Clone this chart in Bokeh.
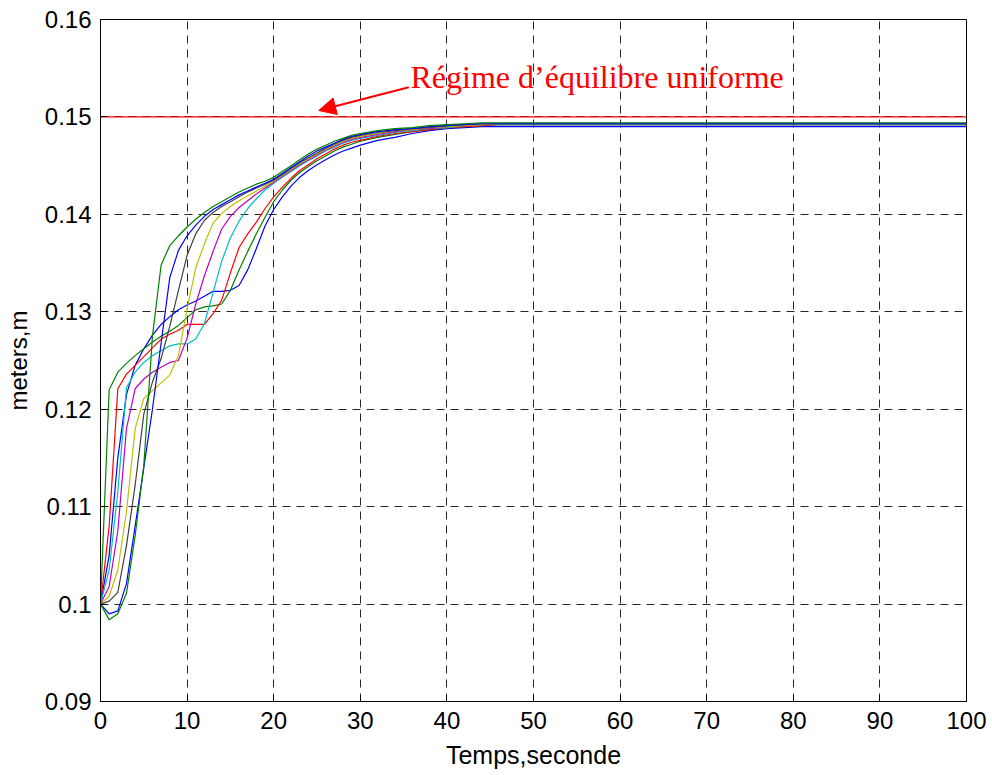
from bokeh.plotting import figure
from bokeh.models import Range1d, FixedTicker, PrintfTickFormatter, Label, Arrow, NormalHead
from bokeh.embed import file_html
from bokeh.resources import INLINE

# ---- data ----
TIME = [0, 1, 2, 3, 4, 5, 6, 7, 8, 9, 10, 11, 12, 13, 14, 15, 16, 17, 18, 19, 20,
        21, 22, 23, 24, 25, 26, 27, 28, 29, 30, 32, 34, 36, 38, 40, 42, 44, 46, 48, 50, 100]

blue_1 = [0.1000, 0.1050, 0.1150, 0.1215, 0.1245, 0.1262, 0.1276, 0.1287, 0.1295, 0.1302, 0.1307,
          0.1311, 0.1316, 0.1321, 0.1321, 0.1322, 0.1327, 0.1343, 0.1365, 0.1388, 0.1405,
          0.1418, 0.1429, 0.1438, 0.1445, 0.1451, 0.1456, 0.1461, 0.1465, 0.1468, 0.1471,
          0.1476, 0.1479, 0.1483, 0.1486, 0.1488, 0.1489, 0.1490, 0.1490, 0.1490, 0.1490, 0.1490]
green_1 = [0.1000, 0.1220, 0.1238, 0.1247, 0.1255, 0.1262, 0.1269, 0.1275, 0.1280, 0.1286, 0.1294,
           0.1302, 0.1305, 0.1306, 0.1308, 0.1322, 0.1343, 0.1362, 0.1380, 0.1397, 0.1413,
           0.1425, 0.1435, 0.1443, 0.1449, 0.1455, 0.1460, 0.1465, 0.1469, 0.1472, 0.1475,
           0.1479, 0.1482, 0.1485, 0.1487, 0.1489, 0.1490, 0.1491, 0.1492, 0.1492, 0.1492, 0.1492]
red_1 = [0.1000, 0.1080, 0.1221, 0.1236, 0.1245, 0.1254, 0.1263, 0.1272, 0.1277, 0.1281, 0.1287,
         0.1287, 0.1287, 0.1298, 0.1312, 0.1340, 0.1366, 0.1380, 0.1392, 0.1406, 0.1418,
         0.1428, 0.1437, 0.1445, 0.1451, 0.1457, 0.1462, 0.1467, 0.1471, 0.1474, 0.1476,
         0.1480, 0.1483, 0.1485, 0.1487, 0.1489, 0.1490, 0.1491, 0.1492, 0.1492, 0.1492, 0.1492]
cyan_1 = [0.1000, 0.1035, 0.1115, 0.1222, 0.1238, 0.1248, 0.1255, 0.1260, 0.1265, 0.1267, 0.1267,
          0.1272, 0.1288, 0.1320, 0.1352, 0.1376, 0.1393, 0.1406, 0.1416, 0.1425, 0.1432,
          0.1438, 0.1444, 0.1450, 0.1455, 0.1460, 0.1465, 0.1469, 0.1473, 0.1476, 0.1478,
          0.1481, 0.1484, 0.1486, 0.1488, 0.1489, 0.1491, 0.1492, 0.1492, 0.1492, 0.1492, 0.1492]
magenta_1 = [0.1000, 0.1018, 0.1075, 0.1180, 0.1221, 0.1231, 0.1238, 0.1243, 0.1248, 0.1250, 0.1273,
             0.1308, 0.1337, 0.1362, 0.1385, 0.1398, 0.1407, 0.1414, 0.1421, 0.1427, 0.1433,
             0.1439, 0.1445, 0.1451, 0.1456, 0.1461, 0.1466, 0.1470, 0.1474, 0.1477, 0.1479,
             0.1482, 0.1485, 0.1487, 0.1488, 0.1490, 0.1491, 0.1492, 0.1493, 0.1493, 0.1493, 0.1493]
yellow_1 = [0.1000, 0.1008, 0.1035, 0.1095, 0.1180, 0.1211, 0.1219, 0.1227, 0.1235, 0.1255, 0.1303,
            0.1345, 0.1370, 0.1391, 0.1401, 0.1408, 0.1414, 0.1419, 0.1424, 0.1429, 0.1434,
            0.1440, 0.1446, 0.1452, 0.1457, 0.1462, 0.1467, 0.1471, 0.1475, 0.1478, 0.1480,
            0.1483, 0.1486, 0.1487, 0.1489, 0.1490, 0.1491, 0.1492, 0.1493, 0.1493, 0.1493, 0.1493]
black_1 = [0.1000, 0.1003, 0.1012, 0.1060, 0.1122, 0.1195, 0.1228, 0.1252, 0.1285, 0.1322, 0.1358,
           0.1380, 0.1394, 0.1402, 0.1408, 0.1413, 0.1418, 0.1423, 0.1427, 0.1431, 0.1435,
           0.1441, 0.1447, 0.1453, 0.1458, 0.1463, 0.1468, 0.1472, 0.1476, 0.1479, 0.1481,
           0.1484, 0.1486, 0.1488, 0.1489, 0.1491, 0.1492, 0.1493, 0.1493, 0.1493, 0.1493, 0.1493]
blue_2 = [0.1000, 0.0990, 0.0993, 0.1021, 0.1080, 0.1140, 0.1200, 0.1268, 0.1335, 0.1363, 0.1378,
          0.1389, 0.1398, 0.1405, 0.1410, 0.1415, 0.1420, 0.1424, 0.1428, 0.1432, 0.1436,
          0.1442, 0.1448, 0.1454, 0.1460, 0.1465, 0.1469, 0.1473, 0.1477, 0.1480, 0.1482,
          0.1485, 0.1487, 0.1488, 0.1490, 0.1491, 0.1492, 0.1493, 0.1493, 0.1493, 0.1493, 0.1493]
green_2 = [0.1000, 0.0984, 0.0990, 0.1011, 0.1070, 0.1142, 0.1275, 0.1348, 0.1368, 0.1378, 0.1387,
           0.1395, 0.1402, 0.1408, 0.1413, 0.1418, 0.1423, 0.1427, 0.1431, 0.1434, 0.1438,
           0.1444, 0.1450, 0.1456, 0.1462, 0.1467, 0.1471, 0.1475, 0.1478, 0.1481, 0.1483,
           0.1486, 0.1488, 0.1489, 0.1491, 0.1492, 0.1493, 0.1494, 0.1494, 0.1494, 0.1494, 0.1494]

SERIES = [blue_1, green_1, red_1, cyan_1, magenta_1, yellow_1, black_1, blue_2, green_2]
COLORS = ["#0000ff", "#008000", "#ff0000", "#00bfbf", "#bf00bf", "#bfbf00", "#404040", "#0000ff", "#008000"]

EQUILIBRIUM = 0.15
X_TICKS = [0, 10, 20, 30, 40, 50, 60, 70, 80, 90, 100]
Y_TICKS = [0.09, 0.10, 0.11, 0.12, 0.13, 0.14, 0.15, 0.16]
ANNOTATION = "Régime d’équilibre uniforme"
X_LABEL = "Temps,seconde"
Y_LABEL = "meters,m"

# ---- figure ----
p = figure(frame_width=866, frame_height=682,
           x_range=Range1d(0, 100), y_range=Range1d(0.09, 0.16),
           output_backend="svg", toolbar_location=None,
           min_border_left=100, min_border_right=26, min_border_top=19, min_border_bottom=74,
           background_fill_color="white", border_fill_color="white")

p.outline_line_color = "black"
p.outline_line_width = 1
p.outline_line_alpha = 1

for ax in (p.xaxis, p.yaxis):
    ax.major_label_text_font = "Liberation Sans"
    ax.major_label_text_font_size = "24px"
    ax.major_label_text_color = "black"
    ax.axis_label_text_font = "Liberation Sans"
    ax.axis_label_text_font_size = "24px"
    ax.axis_label_text_font_style = "normal"
    ax.axis_label_text_color = "black"
    ax.major_tick_in = 6
    ax.major_tick_out = 0
    ax.minor_tick_in = 0
    ax.minor_tick_out = 0
    ax.axis_line_color = "black"
    ax.major_tick_line_color = "black"

p.xaxis.axis_label_text_font_size = "25px"
p.xaxis.ticker = FixedTicker(ticks=X_TICKS)
p.yaxis.ticker = FixedTicker(ticks=Y_TICKS)
p.yaxis.formatter = PrintfTickFormatter(format="%g")
p.xaxis.axis_label = X_LABEL
p.yaxis.axis_label = Y_LABEL
p.xaxis.major_label_standoff = 10
p.yaxis.major_label_standoff = 9
p.xaxis.axis_label_standoff = 9
p.yaxis.axis_label_standoff = 10

for g in (p.xgrid, p.ygrid):
    g.grid_line_color = "black"
    g.grid_line_dash = "8 6"
    g.grid_line_width = 1
    g.grid_line_alpha = 0.85

# equilibrium line
p.line([0, 100], [EQUILIBRIUM, EQUILIBRIUM], line_color="#ff0000", line_width=1.3)

for ys, c in zip(SERIES, COLORS):
    p.line(TIME, ys, line_color=c, line_width=1.2)

p.add_layout(Label(x=35.8, y=0.15405, text=ANNOTATION, text_color="#ff0000",
                   text_font="Liberation Serif", text_font_size="32px",
                   text_baseline="alphabetic", text_align="left"))
p.add_layout(Arrow(end=NormalHead(size=17, fill_color="#ff0000", line_color="#ff0000"),
                   x_start=35.6, y_start=0.15305, x_end=25.2, y_end=0.15066,
                   line_color="#ff0000", line_width=2))

open("out.html", "w").write(file_html(p, INLINE))
